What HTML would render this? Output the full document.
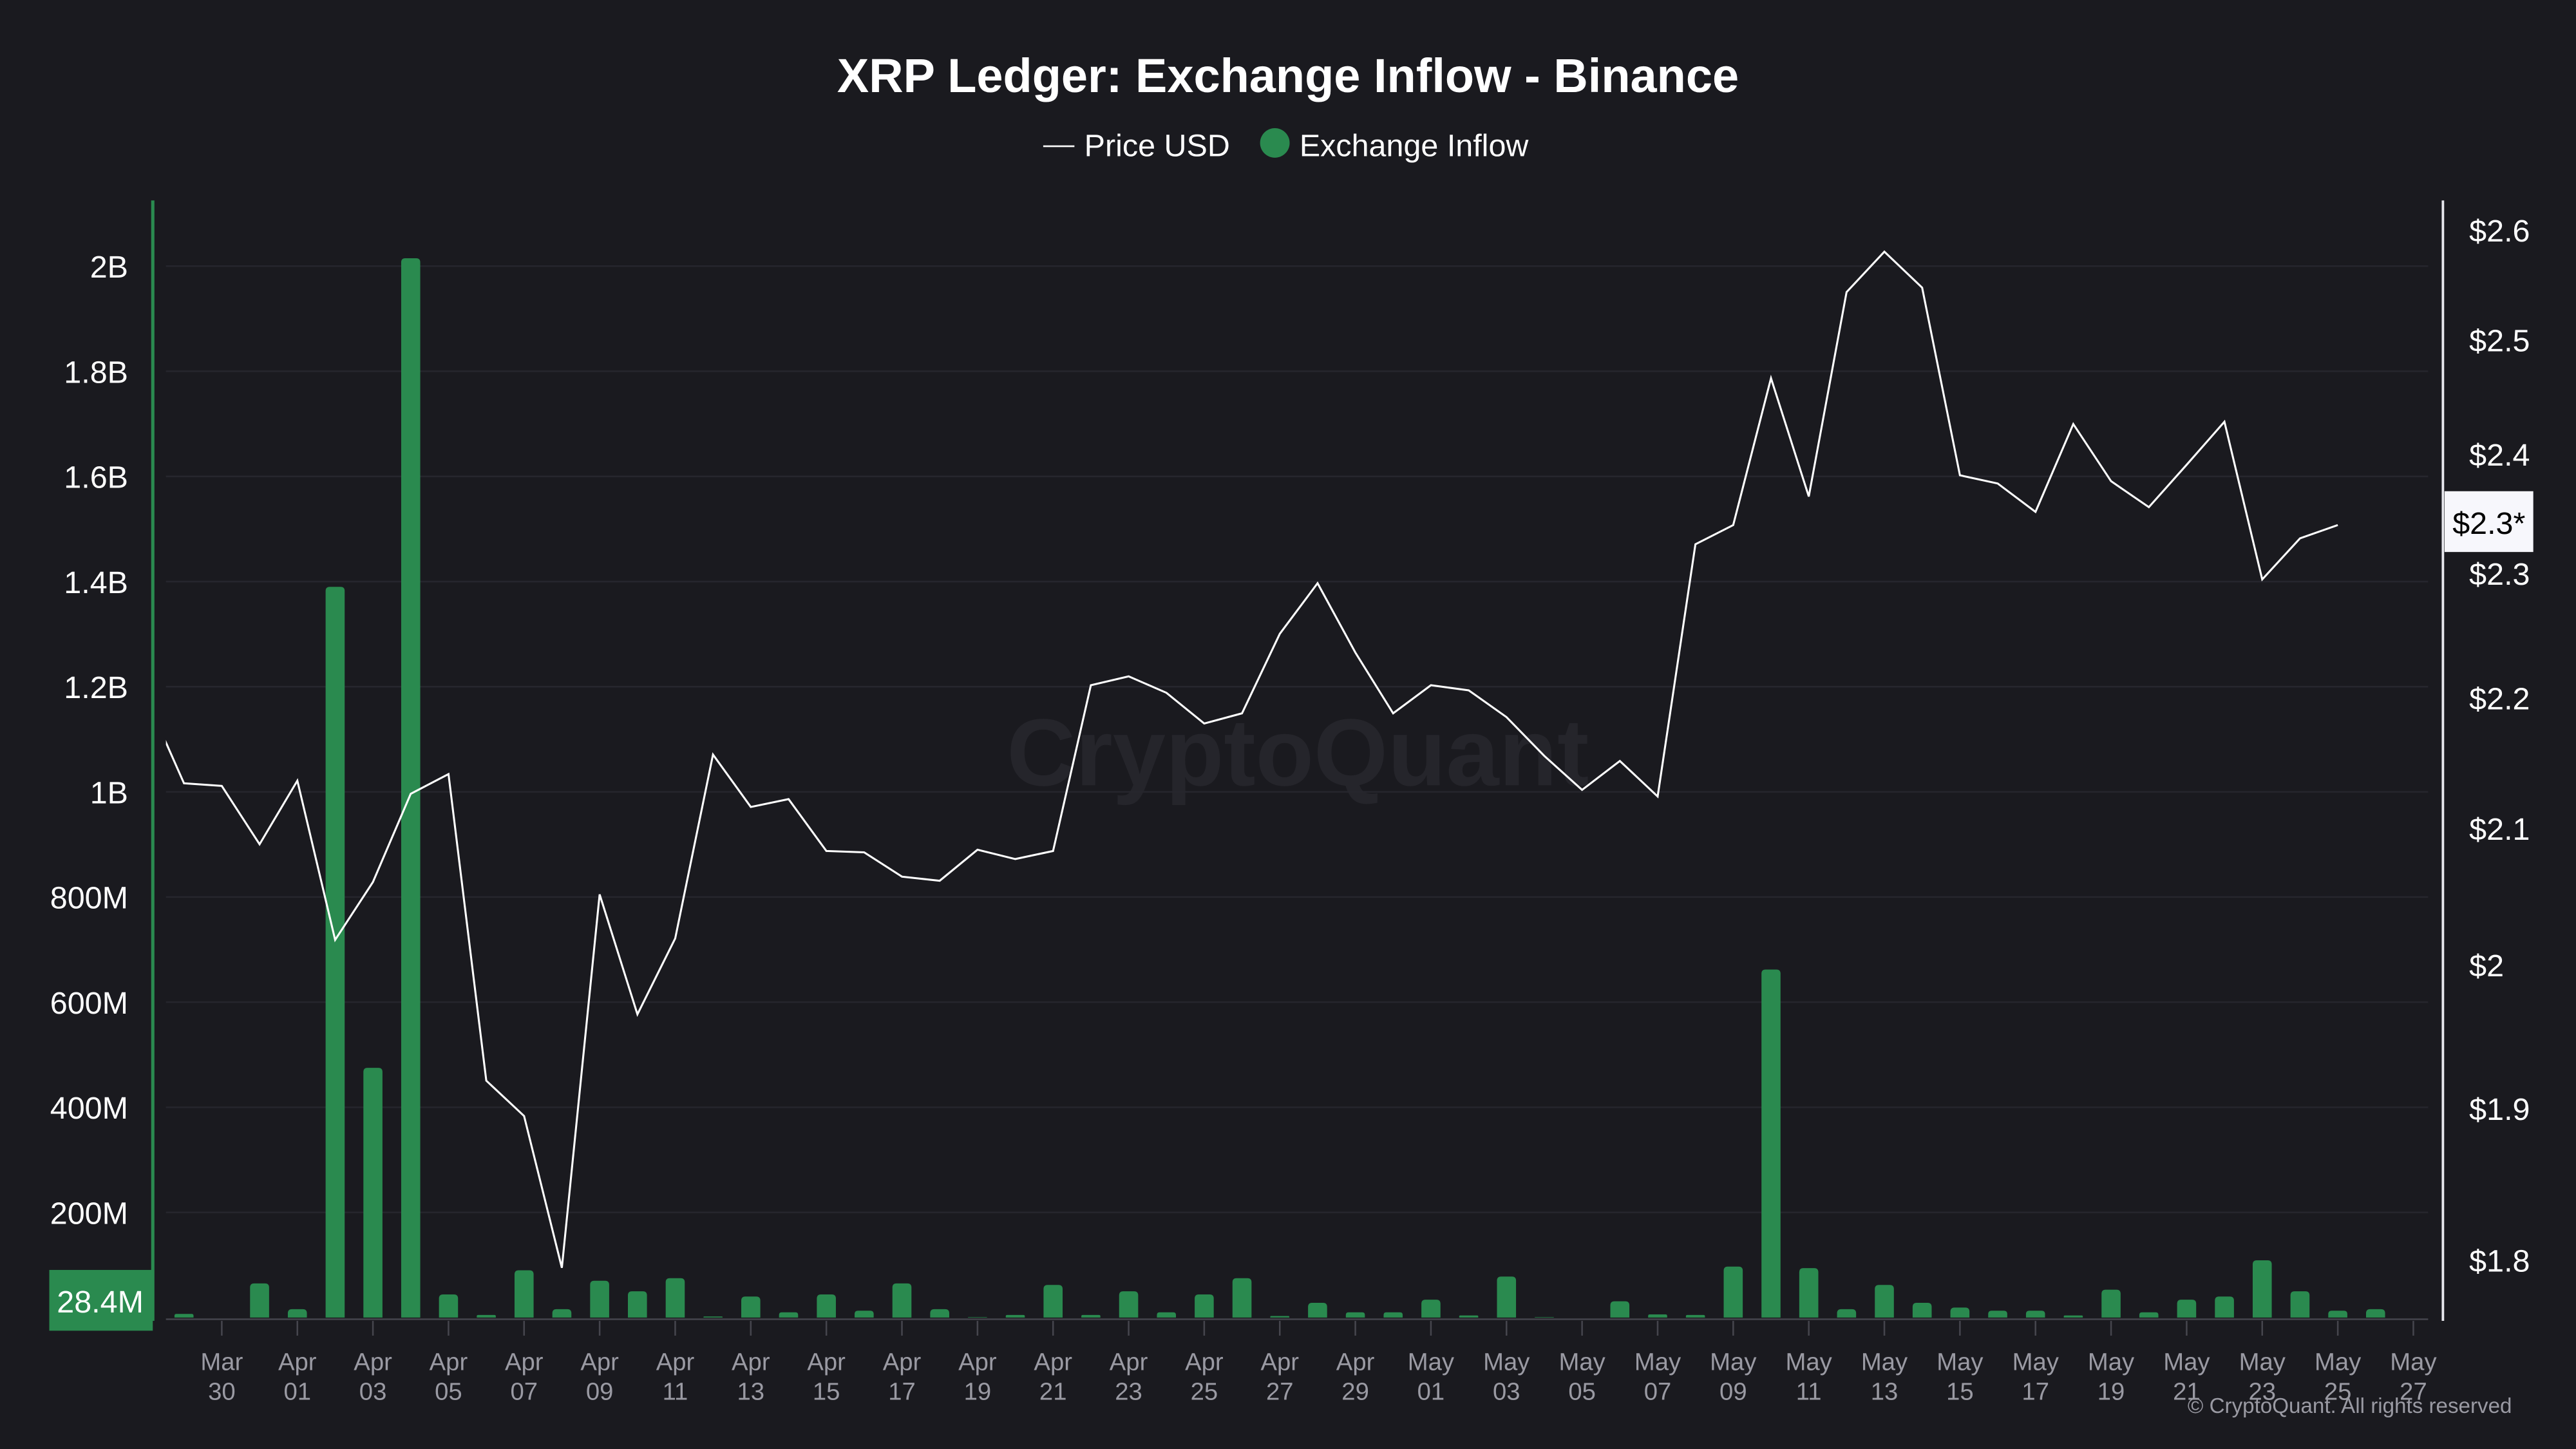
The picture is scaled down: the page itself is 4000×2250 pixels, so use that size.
<!DOCTYPE html>
<html><head><meta charset="utf-8"><style>
html,body{margin:0;padding:0;background:#1a1a1f;}
svg{display:block;font-family:"Liberation Sans",sans-serif;}
</style></head><body>
<svg id="chart" width="4000" height="2250" viewBox="0 0 1568 882" xmlns="http://www.w3.org/2000/svg">
<rect x="0" y="0" width="1568" height="882" fill="#1a1a1f"/>
<text x="790" y="478" font-size="58" font-weight="bold" fill="#25252b" text-anchor="middle">CryptoQuant</text>
<text x="784" y="56" font-size="29" font-weight="bold" fill="#ffffff" text-anchor="middle">XRP Ledger: Exchange Inflow - Binance</text>
<g>
<g><line x1="635" y1="89" x2="654" y2="89" stroke="#ffffff" stroke-width="1"/><text x="660" y="95" font-size="19" fill="#ffffff">Price USD</text></g>
<g><circle cx="776" cy="87" r="9" fill="#2a8a4f"/><text x="791" y="95" font-size="19" fill="#ffffff">Exchange Inflow</text></g>
</g>
<g id="grid"></g>
<g id="bars" clip-path="url(#plotclip)"></g>
<g id="line" clip-path="url(#plotclip)"></g>
<g id="axes"></g>
<defs><clipPath id="plotclip"><rect x="101" y="110" width="1380" height="694"/></clipPath></defs>
<text x="1529" y="860" font-size="13" fill="#9a9aa3" text-anchor="end">© CryptoQuant. All rights reserved</text>
</svg>
<script>
// Data (index 0 = Mar 28)
const startDate = [2025, 2, 28];
const inflowM = [0,7,0,65,16,1390,475,2015,44,5,90,16,70,50,75,2,40,10,44,13,65,16,1,5,62,5,50,10,44,75,3,28,10,10,34,4,78,1,0,31,6,5,97,662,94,16,62,28,19,13,13,4,53,10,34,40,109,50,13,16];
const priceUSD = [2.20,2.134,2.132,2.088,2.136,2.018,2.060,2.126,2.141,1.919,1.895,1.795,2.051,1.965,2.019,2.156,2.116,2.122,2.083,2.082,2.064,2.061,2.084,2.077,2.083,2.210,2.217,2.204,2.180,2.188,2.251,2.292,2.236,2.188,2.210,2.206,2.185,2.155,2.129,2.151,2.124,2.324,2.340,2.466,2.364,2.543,2.580,2.547,2.382,2.375,2.351,2.426,2.377,2.355,2.391,2.428,2.295,2.329,2.340];
const leftTicks = [200,400,600,800,1000,1200,1400,1600,1800,2000];
const leftTickLabels = ["200M","400M","600M","800M","1B","1.2B","1.4B","1.6B","1.8B","2B"];
const rightTicks = [1.8,1.9,2.0,2.1,2.2,2.3,2.4,2.5,2.6];
const rightTickLabels = ["$1.8","$1.9","$2","$2.1","$2.2","$2.3","$2.4","$2.5","$2.6"];
const xTickIdx = [2,4,6,8,10,12,14,16,18,20,22,24,26,28,30,32,34,36,38,40,42,44,46,48,50,52,54,56,58,60];
const lastInflowLabel = "28.4M";
const lastPriceLabel = "$2.3*";

const NS = "http://www.w3.org/2000/svg";
const X0 = 89, DX = 23, PL = 101, PR = 1478, BASE = 802;
function xScale(i){ return X0 + DX*i; }
function yLeft(vM){ return BASE - vM/200*64; }
function yRight(p){ return 140 + Math.log(2.6/p)*1705; }
function mk(tag, attrs, parent){ const e=document.createElementNS(NS,tag); for(const k in attrs) e.setAttribute(k,attrs[k]); parent.appendChild(e); return e; }
const grid=document.getElementById('grid'), bars=document.getElementById('bars'), line=document.getElementById('line'), axes=document.getElementById('axes');
const MON=["Jan","Feb","Mar","Apr","May","Jun"];
function dateLabel(i){ const d=new Date(startDate[0],startDate[1],startDate[2]+i); return [MON[d.getMonth()], String(d.getDate()).padStart(2,'0')]; }

leftTicks.forEach((v,k)=>{
  const y=yLeft(v);
  const g=mk('line',{x1:PL,x2:PR,y1:y,y2:y,stroke:'#26262d','stroke-width':1},grid);
  
  
  const t=mk('text',{x:78,y:y+7,'font-size':19,fill:'#ffffff','text-anchor':'end'},axes);
  t.textContent=leftTickLabels[k];
  
  
});
inflowM.forEach((v,i)=>{
  if(v<=0) return;
  const x=xScale(i), y=yLeft(v), h=BASE-y, w=11.6, r=Math.min(2.5,h/2);
  const p=mk('path',{d:`M${x-w/2},${BASE} V${y+r} Q${x-w/2},${y} ${x-w/2+r},${y} H${x+w/2-r} Q${x+w/2},${y} ${x+w/2},${y+r} V${BASE} Z`,fill:'#2a8a4f'},bars);
  
  
});
const pts=priceUSD.map((p,i)=>xScale(i).toFixed(1)+','+yRight(p).toFixed(1)).join(' ');
const pl=mk('polyline',{points:pts,fill:'none',stroke:'#ffffff','stroke-width':1.2,'stroke-linejoin':'miter'},line);



// axes
const la=mk('line',{x1:93,x2:93,y1:122,y2:804,stroke:'#2a8a4f','stroke-width':2},axes);


const ra=mk('line',{x1:1487,x2:1487,y1:122,y2:804,stroke:'#e8e8ee','stroke-width':1.5},axes);


const xa=mk('line',{x1:PL,x2:PR,y1:803,y2:803,stroke:'#45454d','stroke-width':1},axes);


rightTicks.forEach((p,k)=>{
  const t=mk('text',{x:1503,y:yRight(p)+7,'font-size':19,fill:'#ffffff'},axes);
  t.textContent=rightTickLabels[k];
  
  
});
xTickIdx.forEach(i=>{
  const x=xScale(i), [m,d]=dateLabel(i);
  const tk=mk('line',{x1:x,x2:x,y1:804,y2:813,stroke:'#45454d','stroke-width':1},axes);
  
  
  const t=mk('text',{x:x,y:834,'font-size':15,fill:'#9a9aa3','text-anchor':'middle'},axes);
  t.textContent=m;
  
  
  const t2=mk('text',{x:x,y:852,'font-size':15,fill:'#9a9aa3','text-anchor':'middle'},axes);
  t2.textContent=d;
  
  
});
// current value badges
const lb=mk('rect',{x:30,y:773,width:63,height:37,fill:'#2a8a4f'},axes);


const lt=mk('text',{x:61,y:799,'font-size':19,fill:'#ffffff','text-anchor':'middle'},axes);
lt.textContent=lastInflowLabel;


const rb=mk('rect',{x:1488,y:299,width:54,height:37,fill:'#f7f7fc'},axes);


const rt=mk('text',{x:1515,y:325,'font-size':19,fill:'#000000','text-anchor':'middle'},axes);
rt.textContent=lastPriceLabel;


</script>
</body></html>
